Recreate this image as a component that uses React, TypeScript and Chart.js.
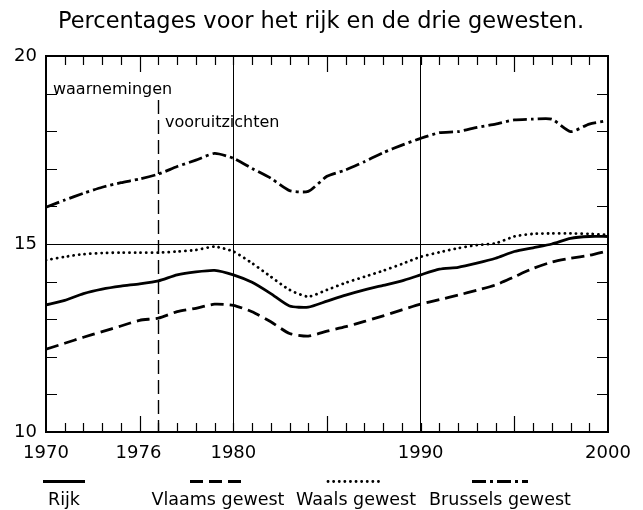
import { useEffect, useRef } from "react";
import { Chart, registerables } from "chart.js";

Chart.register(...registerables);

const TITLE = "Percentages voor het rijk en de drie gewesten.";
const FONT = "'DejaVu Sans', 'Liberation Sans', sans-serif";

const years = [
  1970, 1971, 1972, 1973, 1974, 1975, 1976, 1977, 1978, 1979,
  1980, 1981, 1982, 1983, 1984, 1985, 1986, 1987, 1988, 1989,
  1990, 1991, 1992, 1993, 1994, 1995, 1996, 1997, 1998, 1999, 2000,
];
const rijk = [
  13.38, 13.5, 13.68, 13.8, 13.88, 13.94, 14.02, 14.18, 14.26, 14.3,
  14.18, 13.98, 13.68, 13.35, 13.32, 13.48, 13.64, 13.78, 13.9, 14.02,
  14.18, 14.33, 14.38, 14.49, 14.62, 14.8, 14.9, 15.0, 15.15, 15.2, 15.2,
];
const vlaams = [
  12.2, 12.36, 12.52, 12.67, 12.82, 12.97, 13.03, 13.2, 13.29, 13.4,
  13.37, 13.2, 12.93, 12.62, 12.55, 12.68, 12.8, 12.94, 13.09, 13.25,
  13.4, 13.52, 13.64, 13.77, 13.91, 14.13, 14.35, 14.52, 14.62, 14.7, 14.82,
];
const waals = [
  14.57, 14.66, 14.73, 14.76, 14.77, 14.77, 14.77, 14.8, 14.84, 14.93,
  14.8, 14.49, 14.13, 13.78, 13.6, 13.78, 13.97, 14.13, 14.29, 14.47,
  14.66, 14.78, 14.89, 14.97, 15.02, 15.2, 15.27, 15.28, 15.28, 15.27, 15.24,
];
const brussel = [
  15.98, 16.17, 16.35, 16.51, 16.63, 16.73, 16.86, 17.06, 17.23, 17.41,
  17.28, 17.01, 16.75, 16.42, 16.4, 16.8, 16.97, 17.19, 17.43, 17.63,
  17.81, 17.96, 17.99, 18.1, 18.19, 18.3, 18.32, 18.32, 17.99, 18.19, 18.28,
];
const seriesNames = ["Rijk", "Vlaams gewest", "Waals gewest", "Brussels gewest"];
const seriesDash = [[], [13, 6], [0.1, 5.5], [14, 4, 3, 4]];

const xLabelYears = [1970, 1976, 1980, 1990, 2000];
const yLabelValues = [10, 15, 20];
const gridYears = [1980, 1990];
const gridValues = [15];
const splitYear = 1976;
const splitTopValue = 18.83;
const annotationTexts = ["waarnemingen", "vooruitzichten"];
const annotationYears = [1970.37, 1976.35];
const annotationValues = [19.0, 18.1];

const decor = {
  id: "decor",
  afterDraw(chart: any) {
    const { ctx, chartArea: a, scales } = chart;
    const xs = scales.x;
    const ys = scales.y;
    ctx.save();
    ctx.strokeStyle = "#000";
    ctx.fillStyle = "#000";
    ctx.lineCap = "butt";
    ctx.setLineDash([]);

    // title
    ctx.font = `22.5px ${FONT}`;
    ctx.textAlign = "center";
    ctx.textBaseline = "alphabetic";
    ctx.fillText(TITLE, 321, 28);

    // frame
    ctx.lineWidth = 2;
    ctx.strokeRect(a.left, a.top, a.right - a.left, a.bottom - a.top);

    // inward tick marks
    ctx.lineWidth = 1.2;
    ctx.beginPath();
    for (let yr = xs.min + 1; yr < xs.max; yr++) {
      const px = Math.round(xs.getPixelForValue(yr)) + 0.5;
      const len = yr % 5 === 0 && yr % 10 !== 0 ? 16 : 9;
      ctx.moveTo(px, a.bottom);
      ctx.lineTo(px, a.bottom - len);
      ctx.moveTo(px, a.top);
      ctx.lineTo(px, a.top + len);
    }
    for (let v = ys.min + 1; v < ys.max; v++) {
      const py = Math.round(ys.getPixelForValue(v)) + 0.5;
      ctx.moveTo(a.left, py);
      ctx.lineTo(a.left + 11, py);
      ctx.moveTo(a.right, py);
      ctx.lineTo(a.right - 11, py);
    }
    ctx.stroke();

    // dashed split line observations / forecasts
    const sx = Math.round(xs.getPixelForValue(splitYear)) + 0.5;
    ctx.lineWidth = 1.4;
    ctx.setLineDash([14, 6]);
    ctx.beginPath();
    ctx.moveTo(sx, ys.getPixelForValue(splitTopValue));
    ctx.lineTo(sx, a.bottom);
    ctx.stroke();
    ctx.setLineDash([]);

    // annotations
    ctx.font = `16px ${FONT}`;
    ctx.textAlign = "left";
    ctx.textBaseline = "alphabetic";
    annotationTexts.forEach((t, i) => {
      ctx.fillText(t, xs.getPixelForValue(annotationYears[i]), ys.getPixelForValue(annotationValues[i]));
    });

    // x axis labels
    ctx.font = `18px ${FONT}`;
    ctx.textBaseline = "middle";
    xLabelYears.forEach((yr) => {
      const px = xs.getPixelForValue(yr);
      if (yr === splitYear) {
        ctx.textAlign = "right";
        ctx.fillText(String(yr), px + 3, a.bottom + 21);
      } else {
        ctx.textAlign = "center";
        ctx.fillText(String(yr), px, a.bottom + 21);
      }
    });

    // legend: symbol above label
    const centers = [64, 218, 356, 500];
    const symY = 481.5;
    const textY = 505;
    chart.data.datasets.forEach((ds: any, i: number) => {
      const cx = centers[i];
      const w = i === 0 ? 42 : 56;
      ctx.strokeStyle = ds.borderColor;
      ctx.lineWidth = ds.borderWidth;
      ctx.lineCap = ds.borderCapStyle || "butt";
      ctx.setLineDash(ds.borderDash || []);
      ctx.beginPath();
      ctx.moveTo(cx - w / 2, symY);
      ctx.lineTo(cx + w / 2, symY);
      ctx.stroke();
      ctx.setLineDash([]);
      ctx.font = `17.5px ${FONT}`;
      ctx.textAlign = "center";
      ctx.textBaseline = "alphabetic";
      ctx.fillStyle = "#000";
      ctx.fillText(ds.label, cx, textY);
    });
    ctx.restore();
  },
};

export default function App() {
  const ref = useRef<HTMLCanvasElement | null>(null);
  useEffect(() => {
    if (!ref.current) return;
    const seriesValues = [rijk, vlaams, waals, brussel];
    const chart = new Chart(ref.current, {
      type: "line",
      data: {
        datasets: seriesValues.map((vals, i) => ({
          label: seriesNames[i],
          data: years.map((yr, j) => ({ x: yr, y: vals[j] })),
          borderColor: "#000",
          borderWidth: 2.8,
          borderDash: seriesDash[i],
          borderCapStyle: i === 2 ? "round" : "butt",
          pointRadius: 0,
          tension: 0.2,
          fill: false,
        })),
      },
      options: {
        animation: false,
        responsive: false,
        events: [],
        layout: { padding: { left: 0, right: 35, top: 56, bottom: 0 } },
        plugins: {
          legend: { display: false },
          tooltip: { enabled: false },
          title: { display: false },
        },
        scales: {
          x: {
            type: "linear",
            min: 1970,
            max: 2000,
            afterFit: (s: any) => {
              s.height = 78;
            },
            ticks: { display: false, stepSize: 1, autoSkip: false },
            grid: {
              drawTicks: false,
              color: (c: any) => (gridYears.includes(c.tick?.value) ? "#000" : "rgba(0,0,0,0)"),
              lineWidth: 1,
            },
            border: { display: false },
          },
          y: {
            min: 10,
            max: 20,
            afterFit: (s: any) => {
              s.width = 46;
            },
            ticks: {
              stepSize: 1,
              autoSkip: false,
              color: "#000",
              padding: 9,
              font: { family: FONT, size: 18 },
              callback: (v: any) => (yLabelValues.includes(v) ? String(v) : ""),
            },
            grid: {
              drawTicks: false,
              color: (c: any) => (gridValues.includes(c.tick?.value) ? "#000" : "rgba(0,0,0,0)"),
              lineWidth: 1,
            },
            border: { display: false },
          },
        },
      },
      plugins: [decor],
    });
    return () => chart.destroy();
  }, []);
  return (
    <div style={{ position: "absolute", left: 0, top: 0, width: 643, height: 510, background: "#fff" }}>
      <canvas ref={ref} width={643} height={510} />
    </div>
  );
}
